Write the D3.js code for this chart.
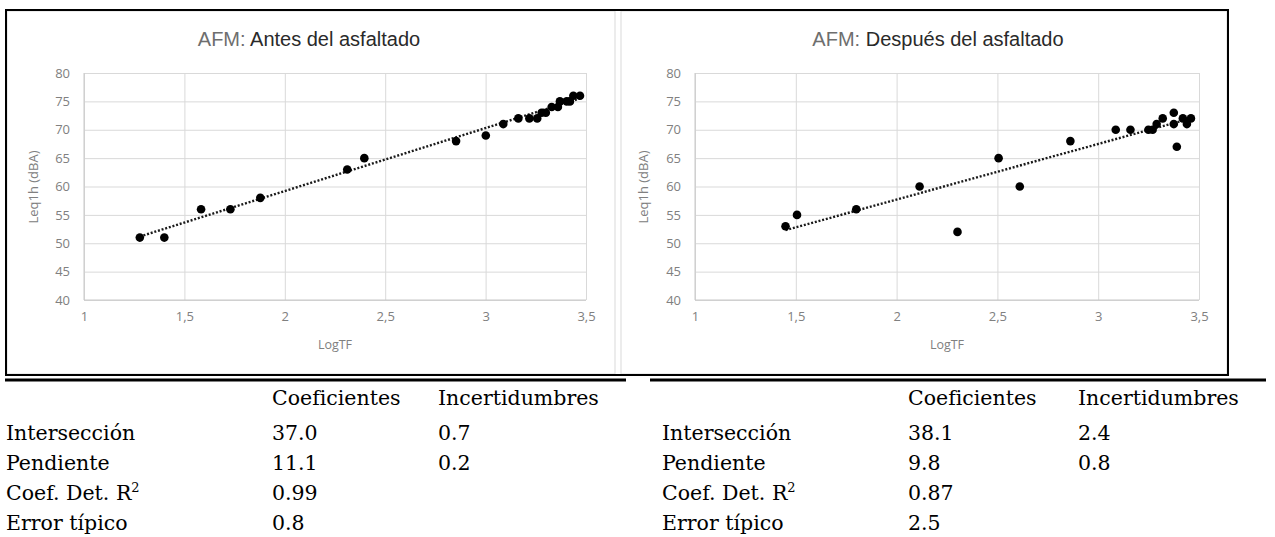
<!DOCTYPE html>
<html lang="es">
<head>
<meta charset="UTF-8">
<title>AFM</title>
<script src="https://d3js.org/d3.v7.min.js"></script>
<style>
  body { margin: 0; background: #fff; }
  .chart text { font-family: "Open Sans", sans-serif; }
  .tbl text { font-family: "DejaVu Serif", serif; font-size: 20.5px; fill: #000; }
</style>
</head>
<body>
<svg id="fig" width="1275" height="537"></svg>
<script>
// --- data ---
var antesX = [1.278, 1.40, 1.583, 1.729, 1.878, 2.311, 2.396, 2.853, 3.001, 3.088, 3.163, 3.218, 3.257, 3.279, 3.30, 3.329, 3.36, 3.37, 3.404, 3.42, 3.437, 3.47];
var antesY = [51, 51, 56, 56, 58, 63, 65, 68, 69, 71, 72, 72, 72, 73, 73, 74, 74, 75, 75, 75, 76, 76];
var despuesX = [1.449, 1.506, 1.80, 2.114, 2.302, 2.506, 2.611, 2.862, 3.087, 3.16, 3.249, 3.27, 3.29, 3.32, 3.375, 3.375, 3.39, 3.42, 3.44, 3.46];
var despuesY = [53, 55, 56, 60, 52, 65, 60, 68, 70, 70, 70, 70, 71, 72, 73, 71, 67, 72, 71, 72];
var antesFit = [37.0, 11.1];     // intersección, pendiente
var despuesFit = [38.1, 9.8];
var xTicks = [1, 1.5, 2, 2.5, 3, 3.5];
var yTicks = [40, 45, 50, 55, 60, 65, 70, 75, 80];

var tableHead = ['Coeficientes', 'Incertidumbres'];
var rowNames = ['Intersección', 'Pendiente', 'Coef. Det. R', 'Error típico'];
var antesCoef = ['37.0', '11.1', '0.99', '0.8'];
var antesInc = ['0.7', '0.2', '', ''];
var despuesCoef = ['38.1', '9.8', '0.87', '2.5'];
var despuesInc = ['2.4', '0.8', '', ''];

var svg = d3.select('#fig');

function drawChart(o) {
  var g = svg.append('g').attr('class', 'chart');
  g.append('rect').attr('x', o.box[0]).attr('y', o.box[1])
    .attr('width', o.box[2] - o.box[0]).attr('height', o.box[3] - o.box[1])
    .attr('fill', '#fff').attr('stroke', '#d9d9d9').attr('stroke-width', 1);

  var x = d3.scaleLinear().domain([1, 3.5]).range([o.left, o.right]);
  var y = d3.scaleLinear().domain([40, 80]).range([300, 73]);

  var gx = g.append('g').attr('transform', 'translate(0,300)')
    .call(d3.axisBottom(x).tickValues(xTicks).tickSize(-(300 - 73)).tickPadding(12)
      .tickFormat(function (d) { return String(d).replace('.', ','); }));
  var gy = g.append('g').attr('transform', 'translate(' + o.left + ',0)')
    .call(d3.axisLeft(y).tickValues(yTicks).tickSize(-(o.right - o.left)).tickPadding(14));
  [gx, gy].forEach(function (a) {
    a.select('.domain').remove();
    a.selectAll('line').attr('stroke', '#d9d9d9').attr('stroke-width', 1);
    a.selectAll('text').attr('fill', '#808080').style('font-size', '13px');
  });
  g.append('line').attr('x1', o.left).attr('x2', o.right).attr('y1', 300).attr('y2', 300)
    .attr('stroke', '#c8c8c8');
  g.append('line').attr('x1', o.left).attr('x2', o.left).attr('y1', 73).attr('y2', 300)
    .attr('stroke', '#c8c8c8');

  // title
  var t = g.append('text').attr('x', o.titleX).attr('y', 46).attr('text-anchor', 'middle')
    .style('font-family', '"Liberation Sans", Arial, sans-serif').style('font-size', '20px');
  t.append('tspan').attr('fill', '#6e6e6e').text('AFM: ');
  t.append('tspan').attr('fill', '#2a2a2a').text(o.title);

  g.append('text').attr('transform', 'translate(' + o.ylabX + ',' + 187 + ') rotate(-90)')
    .attr('text-anchor', 'middle').attr('dy', '0.35em')
    .attr('fill', '#808080').style('font-size', '13px').text('Leq1h (dBA)');
  g.append('text').attr('x', (o.left + o.right) / 2).attr('y', 345)
    .attr('text-anchor', 'middle').attr('dy', '0.35em')
    .attr('fill', '#808080').style('font-size', '12.5px').text('LogTF');

  // trend line
  var x0 = d3.min(o.xs), x1 = d3.max(o.xs);
  g.append('line')
    .attr('x1', x(x0)).attr('y1', y(o.fit[0] + o.fit[1] * x0))
    .attr('x2', x(x1)).attr('y2', y(o.fit[0] + o.fit[1] * x1))
    .attr('stroke', '#1a1a1a').attr('stroke-width', 2.4).attr('stroke-dasharray', '2,1.8');

  g.selectAll('circle.pt').data(o.xs).enter().append('circle').attr('class', 'pt')
    .attr('cx', function (d) { return x(d); })
    .attr('cy', function (d, i) { return y(o.ys[i]); })
    .attr('r', 4.3).attr('fill', '#000');
}

drawChart({ box: [7, 11, 615, 374], left: 84, right: 586, titleX: 309, ylabX: 33,
  title: 'Antes del asfaltado', xs: antesX, ys: antesY, fit: antesFit });
drawChart({ box: [621, 11, 1227, 374], left: 695, right: 1199, titleX: 938, ylabX: 643,
  title: 'Después del asfaltado', xs: despuesX, ys: despuesY, fit: despuesFit });

// outer black frame
svg.append('rect').attr('x', 6).attr('y', 10).attr('width', 1222).attr('height', 365)
  .attr('fill', 'none').attr('stroke', '#000').attr('stroke-width', 2);

function drawTable(lineX0, lineX1, cols, coef, inc) {
  var g = svg.append('g').attr('class', 'tbl');
  g.append('line').attr('x1', lineX0).attr('x2', lineX1).attr('y1', 380).attr('y2', 380)
    .attr('stroke', '#000').attr('stroke-width', 3);
  g.selectAll('text.h').data(tableHead).enter().append('text').attr('class', 'h')
    .attr('x', function (d, i) { return cols[i + 1]; }).attr('y', 405).text(function (d) { return d; });
  var rowY = d3.scalePoint().domain(rowNames).range([440, 530]);
  rowNames.forEach(function (r, i) {
    var t = g.append('text').attr('x', cols[0]).attr('y', rowY(r)).text(r);
    if (r === 'Coef. Det. R') t.append('tspan').attr('dy', -8).style('font-size', '13px').text('2');
    g.append('text').attr('x', cols[1]).attr('y', rowY(r)).text(coef[i]);
    g.append('text').attr('x', cols[2]).attr('y', rowY(r)).text(inc[i]);
  });
}

drawTable(5, 626, [6, 272, 438], antesCoef, antesInc);
drawTable(650, 1266, [662, 908, 1078], despuesCoef, despuesInc);
</script>
</body>
</html>
